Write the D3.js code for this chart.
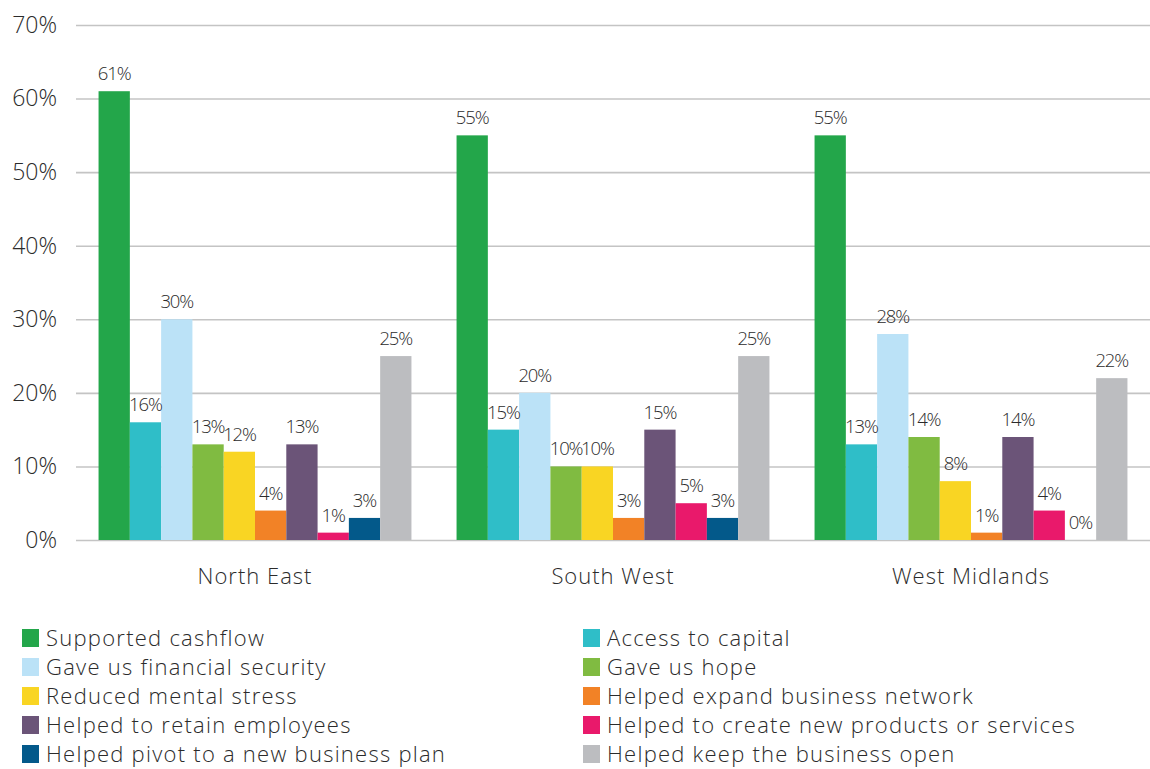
<!DOCTYPE html>
<html>
<head>
<meta charset="utf-8">
<script src="https://cdn.jsdelivr.net/npm/d3@7"></script>
<style>
  html, body { margin: 0; padding: 0; background: #fff; }
  svg { display: block; font-family: "Open Sans", "Lato", sans-serif; font-weight: 300; }
</style>
</head>
<body>
<svg id="chart" width="1150" height="769"></svg>
<script>
// Regions shown as groups along the x axis
const regions = ["North East", "South West", "West Midlands"];

// Reasons reported (one bar per reason within each region)
const reasons = [
  "Supported cashflow",
  "Access to capital",
  "Gave us financial security",
  "Gave us hope",
  "Reduced mental stress",
  "Helped expand business network",
  "Helped to retain employees",
  "Helped to create new products or services",
  "Helped pivot to a new business plan",
  "Helped keep the business open"
];

const reasonColors = [
  "#23a64a", "#2fbec8", "#bbe2f7", "#80bb41", "#f9d523",
  "#f28226", "#6b5478", "#e9196b", "#03598a", "#bcbdc0"
];

// Percent values per region, in the same order as `reasons`
const northEast    = [61, 16, 30, 13, 12, 4, 13, 1, 3, 25];
const southWest    = [55, 15, 20, 10, 10, 3, 15, 5, 3, 25];
const westMidlands = [55, 13, 28, 14, 8, 1, 14, 4, 0, 22];

const yTicks = [0, 10, 20, 30, 40, 50, 60, 70];

const seriesByRegion = [northEast, southWest, westMidlands];

const FONT = "'Open Sans', Lato, sans-serif";
const INK = "#2b2b2b";

const svg = d3.select("#chart");

const plot = { left: 76, right: 1150, top: 25, bottom: 540 };

const x0 = d3.scaleBand()
  .domain(regions)
  .range([plot.left, plot.right])
  .paddingInner(0.126)
  .paddingOuter(0.063);

const x1 = d3.scaleBand()
  .domain(reasons)
  .range([0, x0.bandwidth()])
  .padding(0);

const y = d3.scaleLinear()
  .domain([0, 70])
  .range([plot.bottom, plot.top]);

const color = d3.scaleOrdinal().domain(reasons).range(reasonColors);

// Horizontal gridlines and y tick labels
const yAxis = d3.axisLeft(y)
  .tickValues(yTicks)
  .tickSize(-(plot.right - plot.left))
  .tickPadding(19)
  .tickFormat(d => d + "%");

const gy = svg.append("g")
  .attr("transform", `translate(${plot.left},0)`)
  .call(yAxis);
gy.select(".domain").remove();
gy.selectAll(".tick line").attr("stroke", "#c4c4c4").attr("stroke-width", 1.6);
gy.selectAll(".tick text")
  .attr("fill", INK)
  .style("font-size", "23px")
  .style("font-family", FONT)
  .style("font-weight", 300);

// Bars
const groups = svg.append("g").selectAll("g")
  .data(regions.map((r, i) => ({ region: r, values: seriesByRegion[i] })))
  .join("g")
  .attr("transform", d => `translate(${x0(d.region)},0)`);

const cells = d => reasons.map((k, j) => ({ key: k, value: d.values[j] }));

groups.selectAll("rect")
  .data(cells)
  .join("rect")
  .attr("x", d => x1(d.key))
  .attr("width", x1.bandwidth())
  .attr("y", d => y(d.value))
  .attr("height", d => y(0) - y(d.value))
  .attr("fill", d => color(d.key));

// Value labels above bars
groups.selectAll("text.val")
  .data(cells)
  .join("text")
  .attr("class", "val")
  .attr("x", d => x1(d.key) + x1.bandwidth() / 2)
  .attr("y", d => y(d.value) - 11)
  .attr("text-anchor", "middle")
  .attr("fill", INK)
  .style("font-size", "18.5px")
  .style("letter-spacing", "-1.1px")
  .text(d => d.value + "%");

// Region labels under the axis
const xAxis = d3.axisBottom(x0).tickSize(0).tickPadding(28);
const gx = svg.append("g")
  .attr("transform", `translate(0,${plot.bottom})`)
  .call(xAxis);
gx.select(".domain").remove();
gx.selectAll(".tick text")
  .attr("fill", INK)
  .style("font-size", "22px")
  .style("letter-spacing", "1px")
  .style("font-family", FONT)
  .style("font-weight", 300);

// Legend: two columns, five rows
const legend = svg.append("g");
const colX = [22, 583];
const rowY0 = 638, rowStep = 29;
const items = legend.selectAll("g")
  .data(reasons)
  .join("g")
  .attr("transform", (d, i) => `translate(${colX[i % 2]},${rowY0 + Math.floor(i / 2) * rowStep})`);

items.append("rect")
  .attr("x", 0)
  .attr("y", -9)
  .attr("width", 17)
  .attr("height", 18)
  .attr("fill", d => color(d));

items.append("text")
  .attr("x", 24)
  .attr("y", 0)
  .attr("dy", "0.35em")
  .attr("fill", INK)
  .style("font-size", "22px")
  .style("letter-spacing", "1.25px")
  .text(d => d);
</script>
</body>
</html>
